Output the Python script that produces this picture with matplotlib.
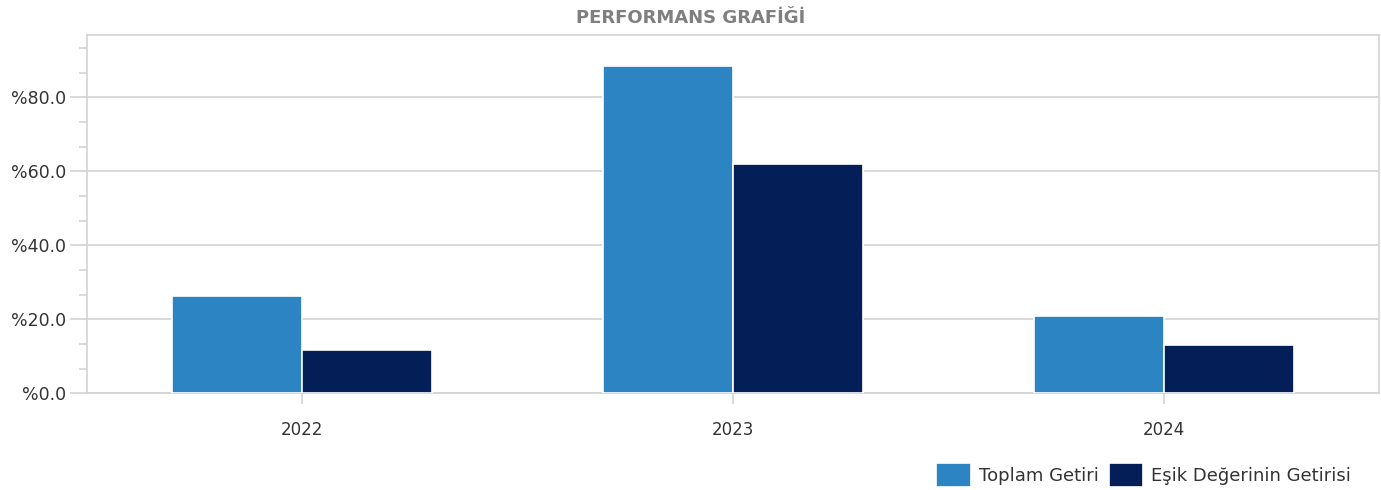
import matplotlib
matplotlib.use("Agg")
from matplotlib import pyplot as plt
from matplotlib.ticker import MultipleLocator, FuncFormatter
import numpy as np

years = ['2022', '2023', '2024']
toplam_getiri = [26.3, 88.5, 20.9]
esik_getiri = [11.7, 61.9, 13.2]
series_names = ['Toplam Getiri', 'Eşik Değerinin Getirisi']

plt.rcParams['font.family'] = ['DejaVu Sans']

fig = plt.figure(figsize=(13.81, 4.90), dpi=100)
ax = fig.add_axes([0.063, 0.197, 0.9356, 0.732])

x = np.arange(len(years))
w = 0.302
ax.bar(x - w / 2, toplam_getiri, w, color='#2C84C2', edgecolor='white', linewidth=1.2,
       label=series_names[0], zorder=3)
ax.bar(x + w / 2, esik_getiri, w, color='#041E58', edgecolor='white', linewidth=1.2,
       label=series_names[1], zorder=3)

ax.set_xlim(-0.5, 2.5)
ax.set_ylim(0, 96.9)
ax.set_xticks(x)
ax.set_xticklabels(years)
ax.yaxis.set_major_locator(MultipleLocator(20))
ax.yaxis.set_minor_locator(MultipleLocator(20 / 3))
ax.yaxis.set_major_formatter(FuncFormatter(lambda v, p: '%%%.1f' % v))
ax.grid(axis='y', which='major', color='#D3D3D3', linewidth=1.2, zorder=0)

for s in ax.spines.values():
    s.set_color('#D3D3D3')
    s.set_linewidth(1.2)

ax.tick_params(axis='y', which='major', length=12, color='#D3D3D3', width=1.2,
               labelsize=12.5, labelcolor='#333333', pad=3)
ax.tick_params(axis='y', which='minor', length=6, color='#D3D3D3', width=1.2)
ax.tick_params(axis='x', length=8, color='#D3D3D3', width=1.2,
               labelsize=12, labelcolor='#333333', pad=12)

fig.suptitle('PERFORMANS GRAFİĞİ', x=0.5, y=0.982, fontsize=13,
             fontweight='bold', color='#7F7F7F')

fig.legend(loc='lower right', bbox_to_anchor=(0.99, -0.028), ncol=2, frameon=False,
           fontsize=13, handlelength=1.9, handleheight=1.75, handletextpad=0.45,
           columnspacing=0.55, labelcolor='#333333')

fig.savefig('out.png', dpi=100)
